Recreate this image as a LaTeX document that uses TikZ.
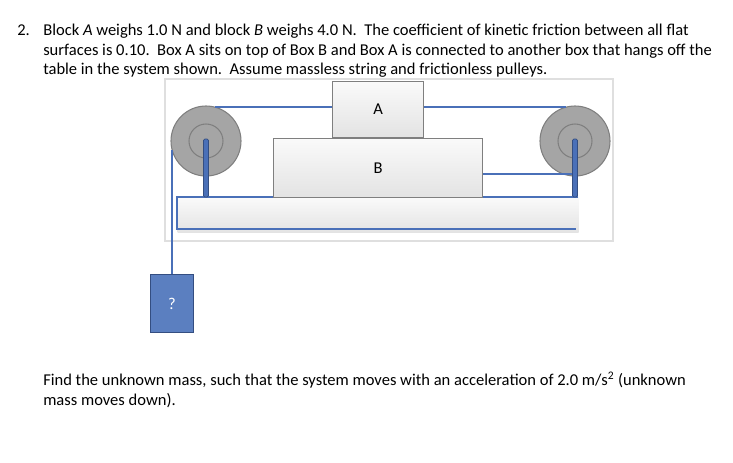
\documentclass[tikz,border=0pt]{standalone}
\usepackage{fontspec}
\setmainfont{Carlito}
\definecolor{strblue}{HTML}{4A70B8}
\definecolor{boxblue}{HTML}{5B7FC0}
\definecolor{pgray}{HTML}{A5A5A5}
\definecolor{pedge}{HTML}{7F7F7F}
\tikzset{
  txt/.style={anchor=base west,inner sep=0pt,font=\fontsize{12.4}{14}\selectfont},
  blk/.style={draw=pedge,line width=0.8pt,top color=white!96!gray,bottom color=gray!22,inner sep=0pt,font=\fontsize{12.4}{14}\selectfont},
  str/.style={draw=strblue,line width=1.5pt},
  post/.style={draw=strblue!70!black,fill=strblue,line width=0.6pt,rounded corners=1pt},
  pul/.style={draw=pedge,fill=pgray,line width=0.8pt,circle,inner sep=0pt}
}
\begin{document}
\begin{tikzpicture}[x=0.75pt,y=-0.75pt]
\useasboundingbox (0,0) rectangle (733,462);
\node[txt] (n2) at (17,35) {2.};
\node[txt] (l1) at (43,35) {Block \textit{A} weighs 1.0 N and block \textit{B} weighs 4.0 N.\ \ The coefficient of kinetic friction between all flat};
\node[txt] (l2) at (43,55) {surfaces is 0.10.\ \ Box A sits on top of Box B and Box A is connected to another box that hangs off the};
\node[txt] (l3) at (43,74) {table in the system shown.\ \ Assume massless string and frictionless pulleys.};
\node[txt] (l4) at (43,385) {Find the unknown mass, such that the system moves with an acceleration of 2.0 m/s\textsuperscript{2} (unknown};
\node[txt] (l5) at (43,405) {mass moves down).};
% frame
\draw[draw=gray!25,line width=0.8pt] (165,79) rectangle (613,241);
% table
\node[blk,draw=none,minimum width=401*0.75pt,minimum height=35*0.75pt,anchor=north west] (table) at (177,197) {};
\draw[str] (578,197) -- (177,197) -- (177,229) -- (576,229);
% blocks
\node[blk,minimum width=209*0.75pt,minimum height=59*0.75pt,anchor=north west] (B) at (273,138) {B};
\node[blk,minimum width=91*0.75pt,minimum height=56*0.75pt,anchor=south west] (A) at (332,138) {A};
% pulleys
\node[pul,minimum size=70*0.75pt] (PL) at (206,141) {};
\node[pul,minimum size=34*0.75pt] (PLi) at (206,141) {};
\node[pul,minimum size=70*0.75pt] (PR) at (575,141) {};
\node[pul,minimum size=34*0.75pt] (PRi) at (575,141) {};
% posts
\draw[post] (203.5,139) rectangle (208.5,197);
\draw[post] (572.5,139) rectangle (577.5,197);
% strings
\coordinate (tl) at (215,107);
\coordinate (tr) at (566,107);
\draw[str] (tl) -- (A.west |- tl);
\draw[str] (A.east |- tr) -- (tr);
\coordinate (bs) at (572,174);
\draw[str] (B.east |- bs) -- (bs);
% hanging mass
\node[draw=strblue!70!black,fill=boxblue,line width=0.8pt,minimum width=43*0.75pt,minimum height=58*0.75pt,anchor=north west,inner sep=0pt,text=white,font=\fontsize{12.4}{14}\selectfont] (M) at (150,274) {?};
\coordinate (ls) at (172,150);
\draw[str] (ls) -- (ls |- M.north);
\end{tikzpicture}
\end{document}
